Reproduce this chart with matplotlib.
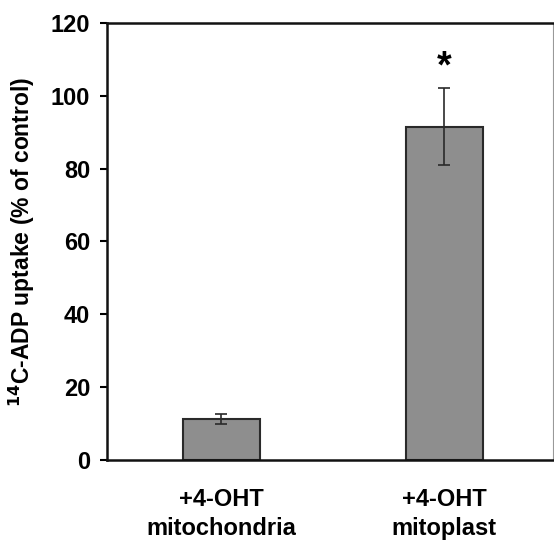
import matplotlib
matplotlib.use("Agg")
import matplotlib.pyplot as plt

categories = ["+4-OHT\nmitochondria", "+4-OHT\nmitoplast"]
values = [11.3, 91.5]
errors = [1.3, 10.5]
star_labels = ["", "*"]
yticks = [0, 20, 40, 60, 80, 100, 120]

plt.rcParams['font.family'] = ['Liberation Sans', 'DejaVu Sans']
plt.rcParams['font.weight'] = 'bold'

fig = plt.figure(figsize=(5.54, 5.42), dpi=100)
ax = fig.add_axes([0.193, 0.151, 0.805, 0.807])

x = list(range(len(categories)))
ax.bar(x, values, width=0.345, color='#8e8e8e', edgecolor='#2a2a2a', linewidth=1.5, zorder=2)
ax.errorbar(x, values, yerr=errors, fmt='none', ecolor='#2a2a2a', elinewidth=1.2,
            capsize=4.5, capthick=1.2, zorder=3)
for xi, v, e, s in zip(x, values, errors, star_labels):
    if s:
        ax.text(xi, v + e + 0.8, s, ha='center', va='bottom', fontsize=27, fontweight='bold')

ax.set_xlim(-0.513, 1.487)
ax.set_ylim(0, 120)
ax.set_yticks(yticks)
ax.set_yticklabels([str(t) for t in yticks], fontsize=17, fontweight='bold')
ax.set_xticks(x)
ax.set_xticklabels(categories, fontsize=17, fontweight='bold', linespacing=1.35)
ax.tick_params(axis='x', length=0, pad=20)
ax.tick_params(axis='y', direction='out', length=5, width=1.5, pad=7)
ax.set_ylabel("$\\mathbf{^{14}}$C-ADP uptake (% of control)", fontsize=16.5, fontweight='bold', labelpad=10)

for side in ['left', 'bottom', 'top']:
    ax.spines[side].set_linewidth(1.8)
    ax.spines[side].set_color('#111111')
ax.spines['right'].set_linewidth(0.8)
ax.spines['right'].set_color('#999999')

fig.savefig("out.png", dpi=100)
